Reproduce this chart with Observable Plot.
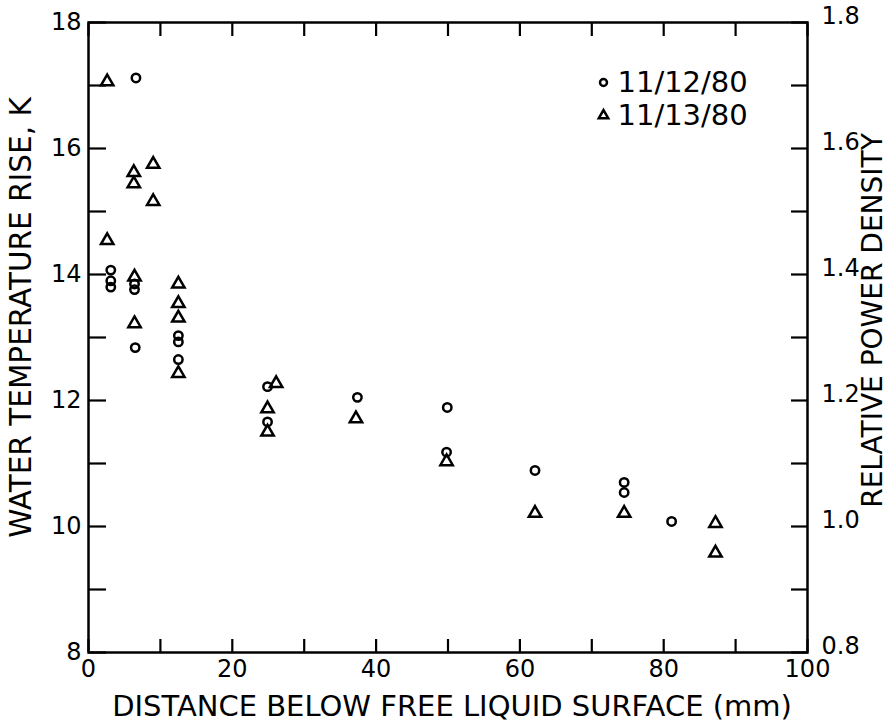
<!DOCTYPE html>
<html>
<head>
<meta charset="utf-8">
<script src="https://cdn.jsdelivr.net/npm/d3@7"></script>
<script src="https://cdn.jsdelivr.net/npm/@observablehq/plot@0.6"></script>
<style>
  html, body { margin: 0; padding: 0; background: #fff; }
</style>
</head>
<body>
<div id="chart"></div>
<script>
// ---- data ----
const seriesNames = ["11/12/80", "11/13/80"];

// 11/12/80 (circles)
const circleX = [6.6, 3.1, 3.1, 3.1, 6.4, 6.4, 6.5, 12.5, 12.5, 12.5, 24.9, 24.9, 37.4, 49.9, 49.8, 62.1, 74.5, 74.5, 81.1];
const circleY = [17.12, 14.07, 13.9, 13.8, 13.85, 13.76, 12.84, 13.03, 12.93, 12.65, 12.22, 11.66, 12.05, 11.89, 11.18, 10.89, 10.70, 10.54, 10.08];

// 11/13/80 (triangles)
const triangleX = [2.6, 6.3, 6.3, 9.0, 9.0, 2.6, 6.4, 6.4, 12.5, 12.5, 12.5, 12.5, 26.1, 24.9, 24.9, 37.2, 49.8, 62.1, 74.5, 87.2, 87.2];
const triangleY = [17.06, 15.62, 15.44, 15.75, 15.16, 14.54, 13.96, 13.22, 13.85, 13.54, 13.31, 12.43, 12.27, 11.87, 11.5, 11.71, 11.03, 10.21, 10.21, 10.05, 9.58];

// axes
const xDomain = [0, 100];
const yDomain = [8, 18];
const xMinorTicks = [0, 10, 20, 30, 40, 50, 60, 70, 80, 90, 100];
const xLabelTicks = [0, 20, 40, 60, 80, 100];
const yMinorTicks = [8, 9, 10, 11, 12, 13, 14, 15, 16, 17, 18];
const yLabelTicks = [8, 10, 12, 14, 16, 18];
const rightLabelTicks = [0.8, 1.0, 1.2, 1.4, 1.6, 1.8];

const xTitle = "DISTANCE BELOW FREE LIQUID SURFACE (mm)";
const yTitle = "WATER TEMPERATURE RISE, K";
const y2Title = "RELATIVE POWER DENSITY";

// ---- build ----
const circles = circleX.map((x, i) => ({x, y: circleY[i]}));
const triangles = triangleX.map((x, i) => ({x, y: triangleY[i]}));

const font = "DejaVu Sans";
const empty = () => "";

const chart = Plot.plot({
  width: 890,
  height: 722,
  marginLeft: 88,
  marginRight: 83,
  marginTop: 22,
  marginBottom: 70,
  style: {fontFamily: font, color: "black", background: "white", overflow: "visible"},
  x: {domain: xDomain},
  y: {domain: yDomain},
  marks: [
    Plot.frame({stroke: "black", strokeWidth: 2.5}),
    // inward ticks
    Plot.axisX({anchor: "bottom", ticks: xMinorTicks, tickSize: -13, strokeWidth: 2.2, tickFormat: empty, label: null}),
    Plot.axisX({anchor: "top", ticks: xMinorTicks, tickSize: -13, strokeWidth: 2.2, tickFormat: empty, label: null}),
    Plot.axisY({anchor: "left", ticks: yMinorTicks, tickSize: -18, strokeWidth: 2.2, tickFormat: empty, label: null}),
    Plot.axisY({anchor: "right", ticks: yMinorTicks, tickSize: -17, strokeWidth: 2.2, tickFormat: empty, label: null}),
    // tick labels
    Plot.axisX({anchor: "bottom", ticks: xLabelTicks, tickSize: 0, tickPadding: 7, fontSize: 24, label: null}),
    Plot.axisY({anchor: "left", ticks: yLabelTicks, tickSize: 0, tickPadding: 7, fontSize: 24, label: null}),
    Plot.axisY({anchor: "right", ticks: rightLabelTicks.map(v => v * 10), tickFormat: d => (d / 10).toFixed(1),
      tickSize: 0, tickPadding: 14, fontSize: 24, dy: -6, label: null}),
    // axis titles
    Plot.text([xTitle], {frameAnchor: "bottom", dx: 4, dy: 54, fontSize: 29, text: d => d, textAnchor: "middle", lineAnchor: "middle"}),
    Plot.text([yTitle], {frameAnchor: "left", dx: -67, dy: -20, rotate: -90, fontSize: 29.5, text: d => d, textAnchor: "middle", lineAnchor: "middle"}),
    Plot.text([y2Title], {frameAnchor: "right", dx: 66, dy: -17, rotate: -90, fontSize: 28, text: d => d, textAnchor: "middle", lineAnchor: "middle"}),
    // data
    Plot.dot(circles, {x: "x", y: "y", symbol: "circle", r: 4.2, stroke: "black", strokeWidth: 2.5, fill: "none"}),
    Plot.dot(triangles, {x: "x", y: "y", symbol: "triangle", r: 4.6, stroke: "black", strokeWidth: 2.5, fill: "none"}),
    // legend
    Plot.dot([seriesNames[0]], {frameAnchor: "top-right", dx: -204, dy: 60, symbol: "circle", r: 3.5, stroke: "black", strokeWidth: 2.5, fill: "none"}),
    Plot.dot([seriesNames[1]], {frameAnchor: "top-right", dx: -204, dy: 93, symbol: "triangle", r: 3.5, stroke: "black", strokeWidth: 2.5, fill: "none"}),
    Plot.text([seriesNames[0]], {frameAnchor: "top-right", dx: -190, dy: 60, text: d => d, textAnchor: "start", lineAnchor: "middle", fontSize: 29}),
    Plot.text([seriesNames[1]], {frameAnchor: "top-right", dx: -190, dy: 93, text: d => d, textAnchor: "start", lineAnchor: "middle", fontSize: 29})
  ]
});

document.getElementById("chart").appendChild(chart);
</script>
</body>
</html>
